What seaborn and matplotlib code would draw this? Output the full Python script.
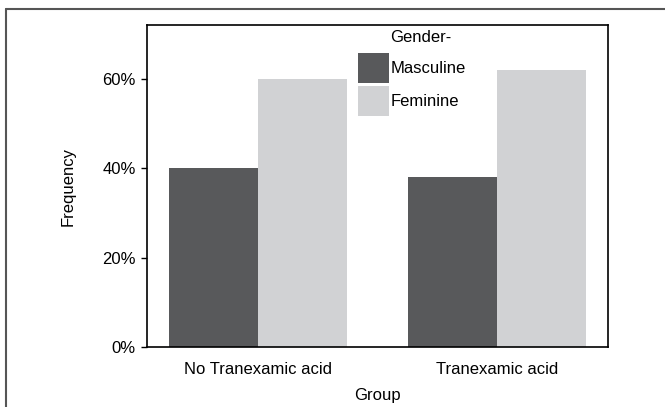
import matplotlib
matplotlib.use("Agg")
import matplotlib.pyplot as plt
from matplotlib.lines import Line2D
import seaborn as sns
import pandas as pd

groups = ["No Tranexamic acid", "Tranexamic acid"]
genders = ["Masculine", "Feminine"]
masculine = [40, 38]
feminine = [60, 62]
colors = ["#58595b", "#d1d2d4"]

df = pd.DataFrame({
    "Group": groups * 2,
    "Gender": [genders[0]] * 2 + [genders[1]] * 2,
    "Frequency": masculine + feminine,
})

sns.set_style("white")
plt.rcParams["font.family"] = ["Liberation Sans", "DejaVu Sans"]
plt.rcParams["font.size"] = 12
plt.rcParams["text.color"] = "black"
plt.rcParams["axes.labelcolor"] = "black"
plt.rcParams["xtick.color"] = "black"
plt.rcParams["ytick.color"] = "black"

fig = plt.figure(figsize=(6.65, 4.07), dpi=100)
ax = fig.add_axes([147 / 665, 1 - 347 / 407, (608 - 147) / 665, (347 - 25) / 407])

sns.barplot(data=df, x="Group", y="Frequency", hue="Gender", hue_order=genders,
            palette=colors, saturation=1, width=0.745, gap=0, errorbar=None,
            linewidth=0, ax=ax)

ax.set_ylim(0, 72)
ax.set_xlim(-0.464, 1.464)
ax.set_yticks([0, 20, 40, 60])
ax.set_yticklabels(["0%", "20%", "40%", "60%"], fontsize=12)
ax.tick_params(axis="y", length=4, width=1, color="black", pad=4, left=True)
ax.tick_params(axis="x", length=0, pad=10.5, labelsize=12)
ax.set_xlabel("Group", fontsize=12, labelpad=8)
ax.set_ylabel("Frequency", fontsize=12, labelpad=19)
for s in ax.spines.values():
    s.set_color("black")
    s.set_linewidth(1.2)

ax.legend(frameon=False, fontsize=12,
          handlelength=1.86, handleheight=2.39, handletextpad=0.1,
          labelspacing=0.18, borderpad=0, borderaxespad=0,
          loc="upper left", bbox_to_anchor=(358 / 665, 1 - 53 / 407),
          bbox_transform=fig.transFigure)
fig.text(390 / 665, 1 - 37 / 407, "Gender-", fontsize=12, ha="left", va="center")

# outer frame
fig.add_artist(Line2D([6 / 665, 1], [1 - 9 / 407, 1 - 9 / 407], color="#555555",
                      lw=1.5, transform=fig.transFigure))
fig.add_artist(Line2D([6 / 665, 6 / 665], [0, 1 - 9 / 407], color="#555555",
                      lw=1.5, transform=fig.transFigure))

fig.savefig("out.png", dpi=100)
